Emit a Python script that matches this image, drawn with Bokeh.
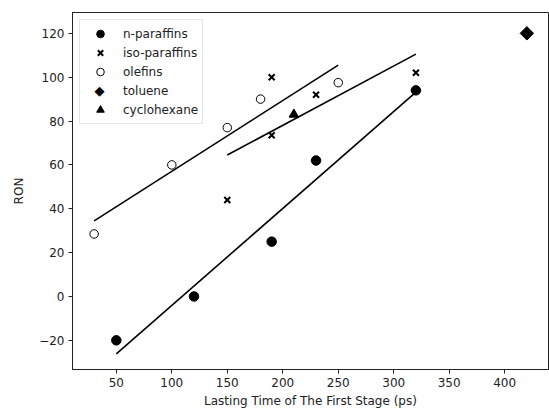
import math
from bokeh.plotting import figure
from bokeh.models import Range1d, FixedTicker, Legend, LegendItem, Label
from bokeh.embed import file_html
from bokeh.resources import INLINE

# data
np_x = [50, 120, 190, 230, 320]
np_y = [-20, 0, 25, 62, 94]
iso_x = [150, 190, 190, 230, 320]
iso_y = [44, 100, 73.5, 92, 102]
ole_x = [30, 100, 150, 180, 250]
ole_y = [28.5, 60, 77, 90, 97.5]
tol_x = [420]
tol_y = [120]
cyc_x = [210]
cyc_y = [83]

# fitted lines (endpoints)
fit_ole_x = [30, 250]
fit_ole_y = [34.5, 105.5]
fit_iso_x = [150, 320]
fit_iso_y = [64.5, 110.5]
fit_np_x = [50, 320]
fit_np_y = [-26.2, 93.2]

x_ticks = [50, 100, 150, 200, 250, 300, 350, 400]
y_ticks = [-20, 0, 20, 40, 60, 80, 100, 120]

FONT = "DejaVu Sans"

W, H = 549, 411
BL, BR, BT, BB = 72, 1, 12, 42
X0, X1 = 10.5, 439.5
Y0, Y1 = -33.3, 129.5

p = figure(width=W, height=H, output_backend="svg", toolbar_location=None,
           x_range=Range1d(X0, X1), y_range=Range1d(Y0, Y1),
           min_border_left=BL, min_border_right=BR, min_border_top=BT, min_border_bottom=BB)
p.background_fill_color = "white"
p.border_fill_color = "white"
p.grid.visible = False
p.outline_line_color = "#222222"
p.outline_line_width = 1

for ax in (p.xaxis[0], p.yaxis[0]):
    ax.axis_line_color = "#222222"
    ax.major_tick_line_color = "#222222"
    ax.major_tick_out = 4
    ax.major_tick_in = 0
    ax.minor_tick_line_color = None
    ax.major_label_text_font = FONT
    ax.major_label_text_font_size = "12px"
    ax.major_label_text_color = "#222222"
    ax.axis_label_text_font = FONT
    ax.axis_label_text_font_size = "12px"
    ax.axis_label_text_font_style = "normal"
    ax.axis_label_text_color = "#222222"

p.xaxis.ticker = FixedTicker(ticks=x_ticks)
p.yaxis.ticker = FixedTicker(ticks=y_ticks)
p.yaxis.major_label_overrides = {t: (str(t).replace("-", "\u2212")) for t in y_ticks}
p.xaxis.axis_label = "Lasting Time of The First Stage (ps)"
p.yaxis.axis_label = "RON"
p.xaxis.major_label_standoff = 4
p.yaxis.major_label_standoff = 4
p.xaxis.axis_label_standoff = 4
p.yaxis.axis_label_standoff = 10

lw = 1.6
p.line(fit_ole_x, fit_ole_y, line_color="black", line_width=lw)
p.line(fit_iso_x, fit_iso_y, line_color="black", line_width=lw)
p.line(fit_np_x, fit_np_y, line_color="black", line_width=lw)

r_np = p.scatter(np_x, np_y, marker="circle", size=9.5, fill_color="black", line_color="black")
r_iso = p.scatter(iso_x, iso_y, marker="x", size=8.5, line_color="black", line_width=2)
r_ole = p.scatter(ole_x, ole_y, marker="circle", size=8.5, fill_color="white", line_color="black", line_width=1)
r_tol = p.scatter(tol_x, tol_y, marker="square", angle=math.pi / 4, size=9.5,
                  fill_color="black", line_color="black")
r_cyc = p.scatter(cyc_x, cyc_y, marker="triangle", size=9.5, fill_color="black", line_color="black")
# legend placeholder for toluene (legend cannot rotate a square); diamond drawn as a label below
r_tol_leg = p.scatter([], [], marker="square", size=1, fill_alpha=0, line_alpha=0)

MARGIN, PAD, GW, GH, STAND = 7, 4, 32, 19, 7
legend = Legend(items=[
    LegendItem(label="n-paraffins", renderers=[r_np]),
    LegendItem(label="iso-paraffins", renderers=[r_iso]),
    LegendItem(label="olefins", renderers=[r_ole]),
    LegendItem(label="toluene", renderers=[r_tol_leg]),
    LegendItem(label="cyclohexane", renderers=[r_cyc]),
], location="top_left")
legend.margin = MARGIN
legend.padding = PAD
legend.spacing = 0
legend.glyph_width = GW
legend.glyph_height = GH
legend.label_height = GH
legend.label_standoff = STAND
legend.label_text_font = FONT
legend.label_text_font_size = "12px"
legend.label_text_color = "#222222"
legend.border_line_color = "#cccccc"
legend.border_line_width = 1
legend.background_fill_color = "white"
legend.background_fill_alpha = 0  # nothing lies under the legend
p.add_layout(legend)

# diamond symbol for the toluene legend row
fw = W - BL - BR
fh = H - BT - BB
sx = MARGIN + PAD + GW / 2
sy = MARGIN + PAD + 3 * GH + GH / 2
lx = X0 + sx / fw * (X1 - X0)
ly = Y1 - sy / fh * (Y1 - Y0)
p.add_layout(Label(x=lx, y=ly, text="\u25C6", text_align="center", text_baseline="middle",
                   text_font=FONT, text_font_size="13px", text_color="black", level="overlay"))

open("out.html", "w").write(file_html(p, INLINE))
